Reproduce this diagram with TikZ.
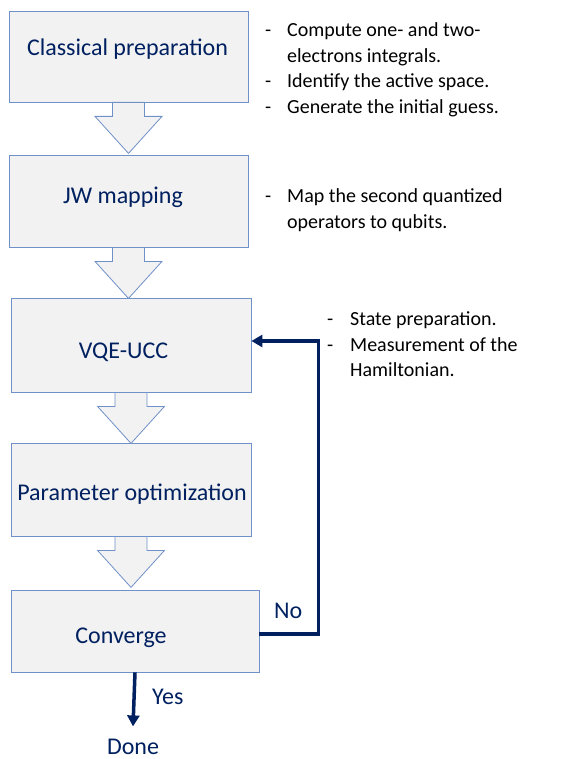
\documentclass[tikz,border=0pt]{standalone}
\usepackage{fontspec}
\setmainfont{Carlito}
\usepackage{array}
\usetikzlibrary{arrows.meta,positioning,calc}

\definecolor{navy}{RGB}{0,32,96}
\definecolor{boxline}{RGB}{112,144,200}
\definecolor{boxfill}{RGB}{242,242,242}

% block arrow under a box
\newcommand{\flowarrow}[1]{%
  \draw[blockarrow] (#1) ++(-16,0) -- ++(0,14) -- ++(-17.5,0) -- ++(33.5,37)
    -- ++(33.5,-37) -- ++(-17.5,0) -- ++(0,-14) -- cycle;}

\begin{document}
\begin{tikzpicture}[x=1pt,y=-1pt,
    stepbox/.style={rectangle, draw=boxline, fill=boxfill, line width=0.8pt, inner sep=0pt},
    boxtxt/.style={anchor=base, inner sep=0pt, text=navy, font=\fontsize{24}{28}\selectfont},
    note/.style={anchor=base west, inner sep=0pt, font=\fontsize{20}{25.5}\selectfont},
    blockarrow/.style={draw=boxline, fill=boxfill, line width=0.8pt, line join=miter},
    fb/.style={draw=navy, line width=3.5pt, -{Triangle[width=12pt,length=11pt]}}]
  \useasboundingbox (0,0) rectangle (561,759);

  % boxes
  \node[stepbox, minimum width=239pt, minimum height=91pt] (b1) at (128.5,56.5) {};
  \node[stepbox, minimum width=239pt, minimum height=92pt] (b2) at (128.5,201) {};
  \node[stepbox, minimum width=240pt, minimum height=94pt] (b3) at (131,345) {};
  \node[stepbox, minimum width=240pt, minimum height=93pt] (b4) at (131,489.5) {};
  \node[stepbox, minimum width=248pt, minimum height=82pt] (b5) at (135,631) {};

  \node[boxtxt] (t1) at (127.5,56) {Classical preparation};
  \node[boxtxt] (t2) at (123,204) {JW mapping};
  \node[boxtxt] (t3) at (123.5,358) {VQE-UCC};
  \node[boxtxt] (t4) at (132,500.5) {Parameter optimization};
  \node[boxtxt] (t5) at (121,643) {Converge};

  \flowarrow{b1.south}
  \flowarrow{b2.south}
  \flowarrow{b3.south}
  \flowarrow{b4.south}

  % notes
  \node[note] (n1) at (265,37) {\begin{tabular}[t]{@{}p{22pt}@{}l@{}}
    - & Compute one- and two-\\
      & electrons integrals.\\
    - & Identify the active space.\\
    - & Generate the initial guess.
  \end{tabular}};
  \node[note] (n2) at (265,203) {\begin{tabular}[t]{@{}p{22pt}@{}l@{}}
    - & Map the second quantized\\
      & operators to qubits.
  \end{tabular}};
  \node[note] (n3) at (327,325.5) {\begin{tabular}[t]{@{}p{23pt}@{}l@{}}
    - & State preparation.\\
    - & Measurement of the\\
      & Hamiltonian.
  \end{tabular}};

  % loop back and exit
  \coordinate[right=67pt of b3.east] (fbtop);
  \draw[fb] ([yshift=-3pt]b5.east) -| ([yshift=4pt]fbtop) -- ([yshift=4pt]b3.east);
  \node[boxtxt, anchor=base west] (no) at (274,618) {No};

  \node[boxtxt] (done) at (133,754) {Done};
  \draw[fb] (b5.south) -- ([yshift=12pt]done.north);
  \node[boxtxt, anchor=base west] (yes) at (152,704) {Yes};
\end{tikzpicture}
\end{document}
